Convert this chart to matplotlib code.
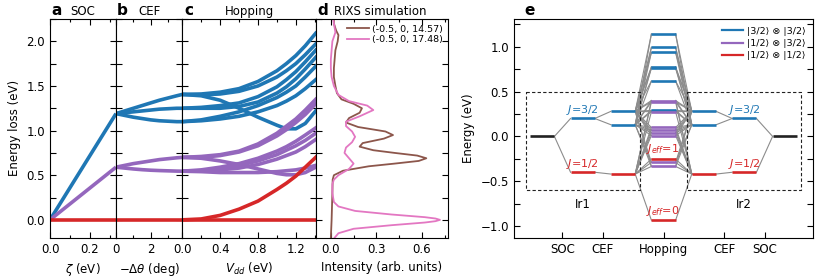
import matplotlib
matplotlib.use('Agg')
import matplotlib.pyplot as plt
from matplotlib.ticker import MultipleLocator
from matplotlib.lines import Line2D

plt.rcParams['font.family'] = ['DejaVu Sans']
plt.rcParams['font.size'] = 8.5
plt.rcParams['mathtext.fontset'] = 'dejavusans'

BLUE = '#1f77b4'; PURPLE = '#9467bd'; RED = '#d62728'
BROWN = '#8c564b'; PINK = '#e377c2'; GRAY = '#8c8c8c'

# ---------------- panel a: SOC ----------------
zeta = [0.0, 0.33]
soc_red = [0.0, 0.0]
soc_purple = [0.0, 0.59]
soc_blue = [0.0, 1.19]

# ---------------- panel b: CEF ----------------
dtheta = [0, 0.5, 1.0, 1.5, 2.0, 2.5, 3.0, 3.5, 3.82]
cef_blue = [
    [1.19, 1.22, 1.25, 1.28, 1.31, 1.34, 1.365, 1.39, 1.405],
    [1.19, 1.20, 1.21, 1.22, 1.23, 1.24, 1.245, 1.25, 1.25],
    [1.19, 1.17, 1.15, 1.135, 1.12, 1.11, 1.105, 1.10, 1.10],
]
cef_purple = [
    [0.59, 0.61, 0.63, 0.645, 0.66, 0.675, 0.685, 0.695, 0.70],
    [0.59, 0.58, 0.57, 0.562, 0.556, 0.552, 0.549, 0.546, 0.545],
]
cef_red = [[0.0] * 9]

# ---------------- panel c: Hopping ----------------
vdd = [0.0, 0.2, 0.4, 0.6, 0.8, 1.0, 1.1, 1.2, 1.3, 1.41]
hop_blue = [
    [1.405, 1.41, 1.43, 1.47, 1.55, 1.67, 1.75, 1.84, 1.95, 2.09],
    [1.405, 1.40, 1.41, 1.44, 1.50, 1.60, 1.67, 1.75, 1.85, 1.97],
    [1.405, 1.39, 1.34, 1.25, 1.15, 1.06, 1.02, 1.02, 1.08, 1.22],
    [1.25, 1.26, 1.28, 1.31, 1.38, 1.49, 1.57, 1.66, 1.77, 1.90],
    [1.25, 1.25, 1.25, 1.27, 1.32, 1.42, 1.49, 1.58, 1.69, 1.82],
    [1.10, 1.12, 1.16, 1.21, 1.28, 1.37, 1.43, 1.50, 1.60, 1.72],
    [1.10, 1.11, 1.13, 1.16, 1.21, 1.28, 1.33, 1.39, 1.47, 1.57],
]
hop_purple = [
    [0.70, 0.71, 0.73, 0.77, 0.85, 0.97, 1.05, 1.13, 1.23, 1.35],
    [0.70, 0.70, 0.72, 0.76, 0.83, 0.94, 1.01, 1.09, 1.18, 1.30],
    [0.70, 0.69, 0.66, 0.62, 0.57, 0.52, 0.505, 0.505, 0.53, 0.59],
    [0.545, 0.56, 0.59, 0.63, 0.69, 0.77, 0.82, 0.88, 0.95, 1.03],
    [0.545, 0.55, 0.57, 0.61, 0.66, 0.73, 0.78, 0.83, 0.89, 0.97],
    [0.545, 0.545, 0.56, 0.58, 0.62, 0.68, 0.72, 0.76, 0.82, 0.90],
    [0.545, 0.54, 0.53, 0.53, 0.53, 0.54, 0.55, 0.56, 0.58, 0.61],
]
hop_red = [
    [0.0] * 10,
    [0.0, 0.01, 0.05, 0.12, 0.21, 0.34, 0.41, 0.49, 0.59, 0.70],
]

# ---------------- panel d: RIXS ----------------
rixs_E1 = [-0.2, 0.0, 0.3, 0.45, 0.5, 0.55, 0.6, 0.63, 0.66, 0.69, 0.72, 0.75, 0.78,
           0.82, 0.86, 0.91, 0.95, 0.99, 1.04, 1.09, 1.14, 1.2, 1.25, 1.30, 1.35, 1.42,
           1.5, 1.6, 1.7, 1.8, 1.9, 2.0, 2.07, 2.12, 2.2, 2.25]
rixs_I1 = [0.0, 0.005, 0.01, 0.012, 0.02, 0.08, 0.25, 0.42, 0.58, 0.63, 0.57, 0.42, 0.28,
           0.19, 0.21, 0.35, 0.41, 0.36, 0.18, 0.10, 0.12, 0.19, 0.205, 0.15, 0.07, 0.04,
           0.03, 0.02, 0.02, 0.025, 0.03, 0.045, 0.05, 0.035, 0.02, 0.02]
rixs_E2 = [-0.2, -0.15, -0.1, -0.06, -0.03, -0.015, 0.0, 0.015, 0.03, 0.06, 0.1, 0.15,
           0.2, 0.3, 0.4, 0.45, 0.5, 0.57, 0.63, 0.69, 0.75, 0.81, 0.87, 0.93, 0.99,
           1.05, 1.1, 1.16, 1.23, 1.28, 1.33, 1.4, 1.5, 1.6, 1.7, 1.8, 1.9, 2.0, 2.1,
           2.2, 2.25]
rixs_I2 = [0.025, 0.05, 0.15, 0.40, 0.62, 0.69, 0.72, 0.69, 0.62, 0.40, 0.16, 0.05,
           0.02, 0.01, 0.01, 0.02, 0.05, 0.12, 0.15, 0.12, 0.09, 0.10, 0.14, 0.16, 0.14,
           0.10, 0.10, 0.19, 0.28, 0.24, 0.12, 0.05, 0.02, 0.005, 0.0, 0.0, 0.005, 0.01,
           0.03, 0.02, 0.015]
rixs_labels = ['(-0.5, 0, 14.57)', '(-0.5, 0, 17.48)']

# ---------------- panel e: level diagram ----------------
e_ticks = [1, 2, 3.5, 5, 6]
e_ticklabels = ['SOC', 'CEF', 'Hopping', 'CEF', 'SOC']
base_level = 0.0
soc_levels = [(0.2, 'blue'), (-0.4, 'red')]
cef_levels = [(0.28, 'blue'), (0.13, 'blue'), (-0.42, 'red')]
hop_levels = [(1.142, 'blue'), (0.993, 'blue'), (0.937, 'blue'), (0.775, 'blue'),
              (0.76, 'blue'), (0.617, 'blue'), (0.29, 'blue'),
              (0.40, 'purple'), (0.385, 'purple'), (0.275, 'purple'), (0.10, 'purple'),
              (0.07, 'purple'), (0.04, 'purple'), (0.01, 'purple'), (-0.29, 'purple'),
              (-0.335, 'purple'), (-0.253, 'red'), (-0.934, 'red')]
legend_e = ['|3/2⟩ ⊗ |3/2⟩', '|1/2⟩ ⊗ |3/2⟩', '|1/2⟩ ⊗ |1/2⟩']

CMAP = {'blue': BLUE, 'purple': PURPLE, 'red': RED}

W, H = 830, 277
fig = plt.figure(figsize=(W / 100, H / 100), dpi=100)


def add_ax(x0, x1, y0=19, y1=237.7):
    return fig.add_axes([x0 / W, 1 - y1 / H, (x1 - x0) / W, (y1 - y0) / H])


def style(ax, top=True):
    ax.tick_params(which='both', direction='in', top=top, right=True, labelsize=8.5)
    ax.tick_params(axis='y', which='both', length=4, width=0.8)
    ax.tick_params(axis='x', which='major', length=4, width=0.8)
    ax.tick_params(axis='x', which='minor', length=2.5, width=0.8)
    for s in ax.spines.values():
        s.set_linewidth(0.8)


LW = 2.6
YL = (-0.2, 2.25)

axa = add_ax(50, 116)
axb = add_ax(116, 182.3)
axc = add_ax(182.3, 315.7)
axd = add_ax(315.7, 448.3)

# a
axa.plot(zeta, soc_blue, color=BLUE, lw=LW, solid_capstyle='butt')
axa.plot(zeta, soc_purple, color=PURPLE, lw=LW, solid_capstyle='butt')
axa.plot(zeta, soc_red, color=RED, lw=LW, solid_capstyle='butt')
axa.set_xlim(0, 0.33)
axa.xaxis.set_major_locator(MultipleLocator(0.2))
axa.xaxis.set_minor_locator(MultipleLocator(0.1))
axa.set_xlabel(r'$\zeta$ (eV)')
axa.set_ylabel('Energy loss (eV)')

# b
for c in cef_blue:
    axb.plot(dtheta, c, color=BLUE, lw=LW)
for c in cef_purple:
    axb.plot(dtheta, c, color=PURPLE, lw=LW)
for c in cef_red:
    axb.plot(dtheta, c, color=RED, lw=LW)
axb.set_xlim(0, 3.82)
axb.xaxis.set_major_locator(MultipleLocator(2))
axb.xaxis.set_minor_locator(MultipleLocator(1))
axb.set_xlabel(r'$-\Delta\theta$ (deg)')

# c
for c in hop_blue:
    axc.plot(vdd, c, color=BLUE, lw=LW)
for c in hop_purple:
    axc.plot(vdd, c, color=PURPLE, lw=LW)
for c in hop_red:
    axc.plot(vdd, c, color=RED, lw=LW)
axc.set_xlim(0, 1.41)
axc.xaxis.set_major_locator(MultipleLocator(0.4))
axc.xaxis.set_minor_locator(MultipleLocator(0.2))
axc.set_xlabel(r'$V_{dd}$ (eV)')

# d
axd.plot(rixs_I1, rixs_E1, color=BROWN, lw=1.3, label=rixs_labels[0])
axd.plot(rixs_I2, rixs_E2, color=PINK, lw=1.3, label=rixs_labels[1])
axd.set_xlim(-0.1, 0.775)
axd.xaxis.set_major_locator(MultipleLocator(0.3))
axd.xaxis.set_minor_locator(MultipleLocator(0.15))
axd.set_xlabel('Intensity (arb. units)')
axd.legend(loc='upper right', frameon=False, fontsize=6.8, handlelength=2.3,
           handletextpad=0.3, labelspacing=0.15, borderaxespad=0.2)

for ax in (axa, axb, axc, axd):
    ax.set_ylim(*YL)
    ax.yaxis.set_major_locator(MultipleLocator(0.5))
    ax.yaxis.set_minor_locator(MultipleLocator(0.25))
    style(ax)
for ax in (axb, axc, axd):
    ax.tick_params(axis='y', labelleft=False)

# titles
def ftext(x, y, s, **kw):
    fig.text(x / W, 1 - y / H, s, va='baseline', **kw)

ftext(51, 15, 'a', fontsize=11, fontweight='bold')
ftext(70, 15, 'SOC', fontsize=8.5)
ftext(117, 15, 'b', fontsize=11, fontweight='bold')
ftext(138, 15, 'CEF', fontsize=8.5)
ftext(184, 15, 'c', fontsize=11, fontweight='bold')
ftext(249, 15, 'Hopping', fontsize=8.5, ha='center')
ftext(317, 15, 'd', fontsize=11, fontweight='bold')
ftext(334, 15, 'RIXS simulation', fontsize=8.5)
ftext(524, 15, 'e', fontsize=11, fontweight='bold')

# e
axe = add_ax(514, 813)
axe.set_xlim(-0.2, 7.2)
axe.set_ylim(-1.13, 1.31)
LLW = 1.9
CW = 0.8


def level(x0, y, col):
    axe.plot([x0, x0 + 0.6], [y, y], color=col, lw=LLW, solid_capstyle='butt', zorder=3)


def conn(x0, y0, x1, y1):
    axe.plot([x0, x1], [y0, y1], color=GRAY, lw=CW, zorder=2)


for side in (0, 1):
    m = (lambda x: x) if side == 0 else (lambda x: 7 - x)
    axe.plot(sorted([m(0.2), m(0.8)]), [base_level] * 2, color='#222222', lw=LLW,
             solid_capstyle='butt', zorder=3)
    for y, c in soc_levels:
        level(min(m(1.2), m(1.8)), y, CMAP[c])
        conn(m(0.8), base_level, m(1.2), y)
    for y, c in cef_levels:
        level(min(m(2.2), m(2.8)), y, CMAP[c])
        for ys, cs in soc_levels:
            if cs == c:
                conn(m(1.8), ys, m(2.2), y)
    for y, c in hop_levels:
        for yc, cc in cef_levels:
            if c == 'purple' or cc == c:
                conn(m(2.8), yc, m(3.2), y)

for y, c in hop_levels:
    level(3.2, y, CMAP[c])

for x0, x1 in ((0.1, 2.92), (4.08, 6.9)):
    axe.plot([x0, x1, x1, x0, x0], [0.5, 0.5, -0.6, -0.6, 0.5], color='#222222',
             lw=0.8, ls=(0, (3, 2)), zorder=4)

tk = dict(fontsize=8, ha='center', va='bottom')
axe.text(1.5, 0.215, r'$J$=3/2', color=BLUE, **tk)
axe.text(5.5, 0.215, r'$J$=3/2', color=BLUE, **tk)
axe.text(1.5, -0.385, r'$J$=1/2', color=RED, **tk)
axe.text(5.5, -0.385, r'$J$=1/2', color=RED, **tk)
axe.text(3.48, -0.215, r'$J_{eff}$=1', color=RED, **tk)
axe.text(3.48, -0.915, r'$J_{eff}$=0', color=RED, **tk)
axe.text(1.5, -0.755, 'Ir1', fontsize=8.5, ha='center', va='center')
axe.text(5.5, -0.755, 'Ir2', fontsize=8.5, ha='center', va='center')

axe.set_xticks(e_ticks)
axe.set_xticklabels(e_ticklabels)
axe.yaxis.set_major_locator(MultipleLocator(0.5))
axe.yaxis.set_minor_locator(MultipleLocator(0.25))
style(axe, top=False)
axe.set_ylabel('Energy (eV)')
handles = [Line2D([], [], color=BLUE, lw=1.6), Line2D([], [], color=PURPLE, lw=1.6),
           Line2D([], [], color=RED, lw=1.6)]
axe.legend(handles, legend_e, loc='upper right', frameon=False, fontsize=6.8,
           handlelength=2.2, handletextpad=0.4, labelspacing=0.35, borderaxespad=0.4)

fig.savefig('out.png', dpi=100)
